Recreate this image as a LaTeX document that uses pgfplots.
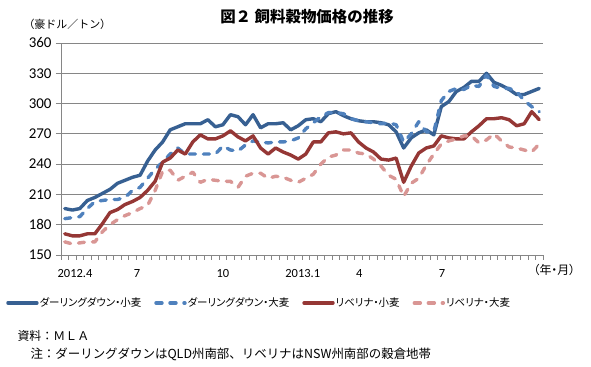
\documentclass[border=0pt]{standalone}
\usepackage{fontspec}
\setmainfont{Carlito}
\newfontfamily\jp{Noto Sans CJK JP}[RawFeature=+palt]
\newfontfamily\jpfix{Noto Sans CJK JP}
\usepackage{pgfplots}
\pgfplotsset{compat=1.18}
\usepackage{pgfplotstable}
\definecolor{ddw}{HTML}{376092}
\definecolor{ddb}{HTML}{4F81BD}
\definecolor{rvw}{HTML}{953735}
\definecolor{rvb}{HTML}{D99694}
\definecolor{gridc}{HTML}{868686}

\pgfplotstableread{
x ddw ddb rvw rvb
0.5 196 186 171 163
1.5 194.5 187 169 161
2.5 196 188 169 162
3.5 204 196 171 163
4.5 207 203 171 163
5.5 211 204 181 173
6.5 215 205 192 180
7.5 221 205 195 185
8.5 224 207 200 189
9.5 227 214 203 192
10.5 229 217 207 196
11.5 243 226 214 199
12.5 254 235 223 214
13.5 262 242 242 233
14.5 274 250 246 234
15.5 277 256 254 224
16.5 280 250 250 228
17.5 280 250 262 232
18.5 280 250 269 222
19.5 284 250 265 225
20.5 277 250 265 224
21.5 279 258 268 223
22.5 289 254 273 223
23.5 287 253 267 217
24.5 279 259 263 228
25.5 289 263 268 231
26.5 276 262 256 231
27.5 280 261 250 226
28.5 280 262 256 228
29.5 281 262 252 227
30.5 274 263 249 224
31.5 278 266 245 222
32.5 284 275 250 226
33.5 285 281 262 230
34.5 282 287 262 240
35.5 290 291 271 247
36.5 292 291 272 249
37.5 288 290 270 254
38.5 285 285 271 254
39.5 283 283 262 251
40.5 282 282 256 250
41.5 282 281 252 245
42.5 281 280 245 238
43.5 279 281 244 229
44.5 272 279 246 225
45.5 256 262 222 208
46.5 266 270 238 221
47.5 271 282 251 226
48.5 274 272 256 239
49.5 269 272 258 250
50.5 297 303 268 260
51.5 302 312 266 263
52.5 312 315 265 265
53.5 316 314 265 268
54.5 322 318 272 268
55.5 322 317 278 261
56.5 330 328 285 264
57.5 321 317 285 270
58.5 318 315 286 263
59.5 314 315 284 257
60.5 309 312 278 256
61.5 309 303 280 254
62.5 312 297 292 252
63.5 315 292 284 260
}\datatable

\begin{document}
\begin{tikzpicture}
\path[use as bounding box, fill=white] (0bp,0bp) rectangle (591bp,367bp);
\begin{axis}[
  at={(61bp,112bp)}, anchor=south west,
  scale only axis, width=482bp, height=212bp,
  xmin=0, xmax=64, ymin=150, ymax=360,
  ytick={150,180,...,360},
  xtick={1.86,10.1,21.5,32.1,39.6,50.6},
  xticklabels={2012.4,7,10,2013.1,4,7},
  minor xtick={0,1,...,64},
  tick align=outside,
  major tick length=5bp,
  minor tick length=5bp,
  major x tick style={draw=none},
  tick style={gridc, line width=0.8bp},
  axis lines*=left,
  axis line style={gridc, line width=0.8bp},
  ymajorgrids,
  grid style={gridc, line width=0.8bp},
  /pgf/number format/assume math mode=true,
  yticklabel style={font=\fontsize{15}{18}\selectfont, xshift=-1bp},
  xticklabel style={font=\fontsize{12.5}{14}\selectfont, yshift=-6bp},
  legend style={at={(0.41,-0.226)}, anchor=center, draw=none, fill=none,
    font=\jp\fontsize{10.5}{12}\selectfont, inner sep=0pt,
    /tikz/every even column/.append style={column sep=12bp},
    nodes={inner xsep=1bp}},
  legend columns=4,
  legend cell align=left,
  legend image code/.code={\draw[#1] (0bp,0bp) -- (29bp,0bp);},
  every axis plot/.append style={line width=3.4bp, line cap=round, line join=round},
]
\addplot[ddw, no markers] table[x=x, y=ddw] {\datatable};
\addlegendentry{ダーリングダウン・小麦}
\addplot[ddb, no markers, dash pattern=on 6bp off 8bp] table[x=x, y=ddb] {\datatable};
\addlegendentry{ダーリングダウン・大麦}
\addplot[rvw, no markers] table[x=x, y=rvw] {\datatable};
\addlegendentry{リベリナ・小麦}
\addplot[rvb, no markers, dash pattern=on 6bp off 8bp] table[x=x, y=rvb] {\datatable};
\addlegendentry{リベリナ・大麦}
\end{axis}
\node[font=\jpfix\bfseries\fontsize{15.5}{18}\selectfont] at (307bp,350bp) {図２ 飼料穀物価格の推移};
\node[anchor=west, font=\jpfix\fontsize{11}{13}\selectfont] at (20bp,343bp) {（豪ドル／トン）};
\node[anchor=west, font=\jp\fontsize{12}{14}\selectfont] at (530bp,97bp) {（年・月）};
\node[anchor=west, font=\jpfix\fontsize{12}{14}\selectfont] at (14bp,31bp) {資料：ＭＬＡ};
\node[anchor=west, font=\jpfix\fontsize{12.5}{14}\selectfont] at (27bp,13bp) {注：ダーリングダウンはQLD州南部、リベリナはNSW州南部の穀倉地帯};
\end{tikzpicture}
\end{document}
